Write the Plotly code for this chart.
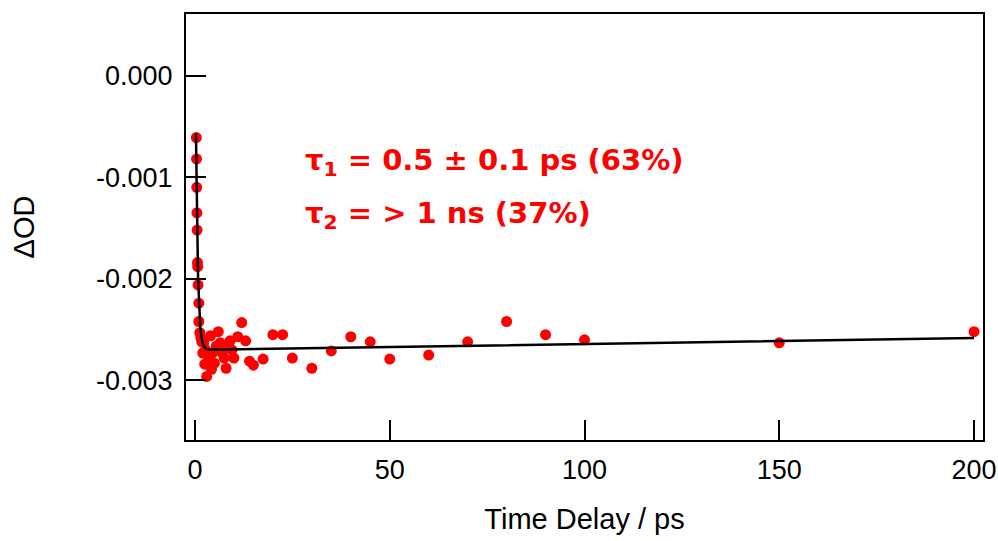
import numpy as np
import plotly.graph_objects as go

# ---- data (time delay in ps, ΔOD) ----
time_ps = [0.35, 0.40, 0.45, 0.50, 0.55, 0.65, 0.70, 0.80, 1.00,
           1.00, 1.25, 1.50, 1.75, 2.00, 2.25, 2.50, 2.75, 3.00, 3.50,
           4.00, 4.25, 4.50, 5.00, 5.50, 6.00, 6.50, 7.00, 7.50, 8.00,
           8.50, 9.00, 9.50, 10.0, 11.0, 12.0, 13.0, 14.0, 15.0, 17.5,
           20.0, 22.5, 25.0, 30.0, 35.0, 40.0, 45.0, 50.0, 60.0, 70.0,
           80.0, 90.0, 100.0, 150.0, 200.0]
delta_od = [-0.00061, -0.00082, -0.00110, -0.00135, -0.00152, -0.00184, -0.00188, -0.00206, -0.00224,
            -0.00242, -0.00253, -0.00258, -0.00262, -0.00273, -0.00263, -0.00284, -0.00270, -0.00296, -0.00278,
            -0.00256, -0.00289, -0.00273, -0.00283, -0.00266, -0.00252, -0.00263, -0.00273, -0.00278, -0.00288,
            -0.00266, -0.00261, -0.00270, -0.00278, -0.00257, -0.00243, -0.00261, -0.00281, -0.00285, -0.00279,
            -0.00255, -0.00255, -0.00278, -0.00288, -0.00271, -0.00257, -0.00262, -0.00279, -0.00275, -0.00262,
            -0.00242, -0.00255, -0.00260, -0.00263, -0.00252]

# ---- fit parameters ----
fit_t_start = 0.25      # ps
fit_y_start = -0.00057
fit_plateau = -0.00270
tau1 = 0.5              # ps
tau2 = 4500.0           # ps (> 1 ns)
fit_t_end = 200.0

# ---- axis ticks ----
x_tickvals = [0, 50, 100, 150, 200]
x_ticktext = ["0", "50", "100", "150", "200"]
y_tickvals = [0.0, -0.001, -0.002, -0.003]
y_ticktext = ["0.000", "-0.001", "-0.002", "-0.003"]

fit_t = np.concatenate([np.linspace(fit_t_start, 5, 200), np.linspace(5, fit_t_end, 200)])
fit_y = (fit_plateau * np.exp(-fit_t / tau2)
         + (fit_y_start - fit_plateau) * np.exp(-(fit_t - fit_t_start) / tau1))

fig = go.Figure()
fig.add_trace(go.Scatter(x=time_ps, y=delta_od, mode="markers",
                         marker=dict(color="#ff0000", size=11, line=dict(width=0)),
                         showlegend=False))
fig.add_trace(go.Scatter(x=fit_t, y=fit_y, mode="lines",
                         line=dict(color="black", width=2.5), showlegend=False))

axis_font = dict(family="Liberation Sans, Arial, sans-serif", size=27, color="black")

fig.update_layout(
    width=998, height=541,
    margin=dict(l=186, r=15, t=14, b=101, autoexpand=False),
    paper_bgcolor="white", plot_bgcolor="white",
    xaxis=dict(range=[-2.3, 202.3], tickvals=x_tickvals, ticktext=x_ticktext,
               ticks="inside", ticklen=20, tickwidth=2, tickcolor="black",
               showline=True, linewidth=2, linecolor="black", mirror=True,
               showgrid=False, zeroline=False, tickfont=axis_font,
               ticklabelstandoff=5, automargin=False, ticklabeloverflow="allow",
               title=dict(text="Time Delay / ps", font=dict(family="Liberation Sans, Arial, sans-serif", size=29, color="black"),
                          standoff=24)),
    yaxis=dict(range=[-0.003586, 0.000606], tickvals=y_tickvals, ticktext=y_ticktext,
               ticks="inside", ticklen=20, tickwidth=2, tickcolor="black",
               showline=True, linewidth=2, linecolor="black", mirror=True,
               showgrid=False, zeroline=False, tickfont=axis_font,
               ticklabelstandoff=6, automargin=False,
               title=dict(text="ΔOD", font=dict(family="Liberation Sans, Arial, sans-serif", size=29, color="black"),
                          standoff=53)),
    annotations=[
        dict(x=27.8, y=-0.00085, xref="x", yref="y", xanchor="left", yanchor="middle",
             text="<b>τ<sub>1</sub> = 0.5 ± 0.1 ps (63%)</b>", showarrow=False,
             font=dict(family="DejaVu Sans, sans-serif", size=29, color="#ff0000")),
        dict(x=27.8, y=-0.00137, xref="x", yref="y", xanchor="left", yanchor="middle",
             text="<b>τ<sub>2</sub> = > 1 ns (37%)</b>", showarrow=False,
             font=dict(family="DejaVu Sans, sans-serif", size=29, color="#ff0000")),
    ],
)

fig.write_html("out.html")
